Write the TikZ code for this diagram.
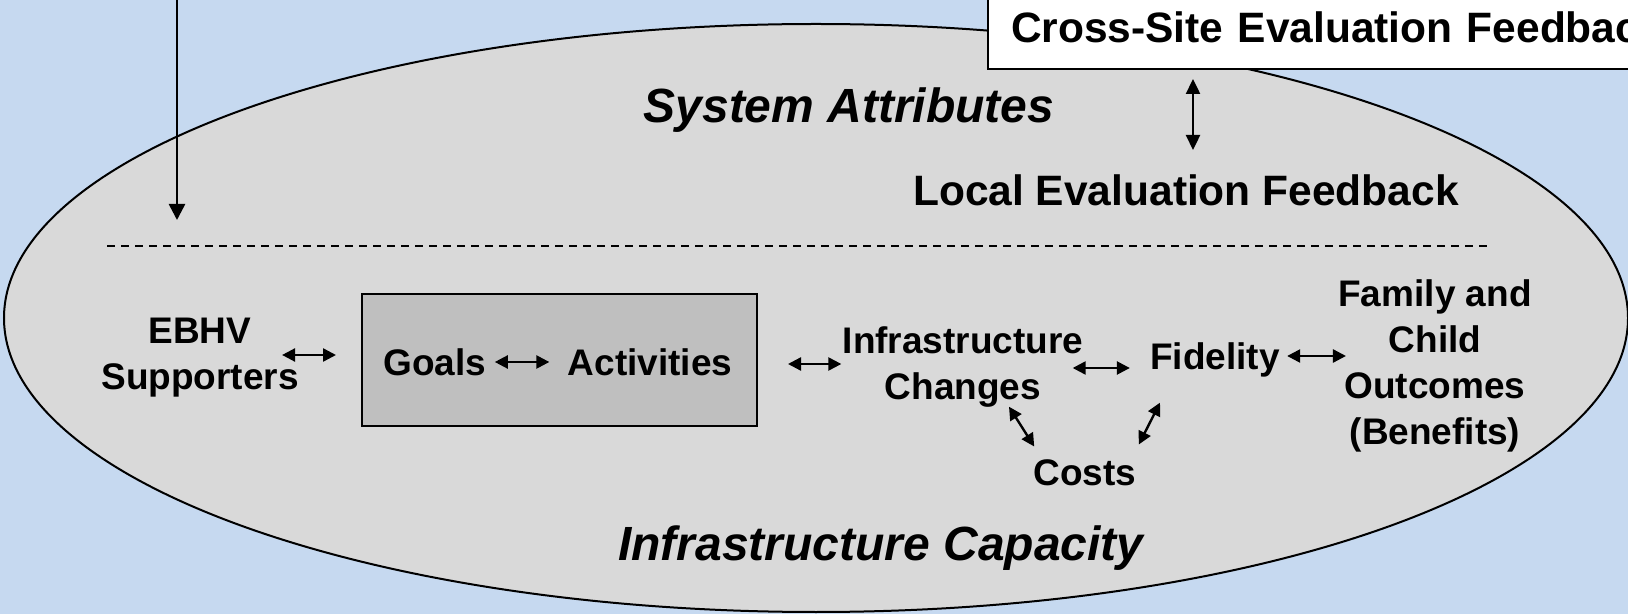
\documentclass[tikz,border=0pt]{standalone}
\usepackage{fontspec}
\setmainfont{Liberation Sans}
\usetikzlibrary{arrows.meta, calc}
\definecolor{skyblue}{RGB}{198,217,240}
\definecolor{ovalgray}{RGB}{217,217,217}
\definecolor{boxgray}{RGB}{191,191,191}
\tikzstyle{factor} = [inner sep=0pt, align=center, font=\bfseries\fontsize{18.5}{23}\selectfont]
\tikzstyle{heading} = [inner sep=0pt, font=\bfseries\fontsize{21.25}{25}\selectfont]
\tikzstyle{title} = [inner sep=0pt, font=\bfseries\itshape\fontsize{24}{28}\selectfont]
\tikzstyle{frame} = [rectangle, draw=black, fill=boxgray, line width=1pt, minimum width=197.5pt, minimum height=66pt]
\tikzstyle{crossbox} = [rectangle, draw=black, fill=white, line width=1pt, anchor=south west, minimum height=42pt, text width=330pt, align=left, inner xsep=11.5pt, font=\bfseries\fontsize{21.25}{25}\selectfont]
\tikzstyle{divider} = [line width=0.6pt, dash pattern=on 4pt off 3pt]
\tikzstyle{arrow} = [line width=1.2pt, <->, >={Triangle[length=6.5pt, width=6.5pt]}]
\tikzstyle{bigarrow} = [line width=1.3pt, ->, >={Triangle[length=8pt, width=8pt]}]

\begin{document}
\begin{tikzpicture}[x=0.5pt, y=-0.5pt]
  \useasboundingbox (0,0) rectangle (1628,614);
  \fill [skyblue] (0,0) rectangle (1628,614);
  \clip (0,0) rectangle (1628,614);
  \draw [fill=ovalgray, line width=1pt] (816,318) ellipse [x radius=406pt, y radius=147pt];
  \draw [divider] (107,246) -- (1487,246);

  \coordinate (inflow) at (177,-10);
  \coordinate (inflowend) at (177,220);
  \draw [bigarrow] (inflow) -- (inflowend);

  \node (cross) [crossbox] at (987,70) {Cross-Site Evaluation Feedback};
  \node (sysattr) [title] at (849,110) {System Attributes};
  \node (local) [heading] at (1186,190) {Local Evaluation Feedback};

  \node (ebhv) [factor] at (200,358) {EBHV\\Supporters};
  \node (box) [frame] at (559.5,360) {};
  \node (goals) [factor] at (435,362) {Goals};
  \node (activities) [factor] at (650,362) {Activities};
  \node (infra) [factor] at (963,367) {Infrastructure\\Changes};
  \node (fidelity) [factor] at (1215,360) {Fidelity};
  \node (family) [factor] at (1435,366) {Family and\\Child\\Outcomes\\(Benefits)};
  \node (costs) [factor] at (1085,473) {Costs};
  \node (capacity) [title] at (881,548) {Infrastructure Capacity};

  \draw [arrow, >={Triangle[length=7.5pt, width=7pt]}] ($(cross.south west)+(206,9)$) -- ($(local.north)+(7,-24)$);
  \draw [arrow] ($(ebhv.east)+(-17,-3)$) -- ($(box.west)+(-25,-5)$);
  \draw [arrow] ($(goals.east)+(8,0)$) -- ($(activities.west)+(-18,0)$);
  \draw [arrow] ($(box.east)+(30,4)$) -- ($(infra.west)+(-1,-3)$);
  \draw [arrow] ($(infra.east)+(-11,1)$) -- ($(fidelity.west)+(-20,8)$);
  \draw [arrow] ($(fidelity.east)+(7,-4)$) -- ($(family.west)+(8,-10)$);
  \draw [arrow] ($(infra.south)+(46,-1)$) -- ($(costs.north west)+(1,-13)$);
  \draw [arrow] ($(costs.north east)+(2,-15)$) -- ($(fidelity.south)+(-55,25)$);
\end{tikzpicture}
\end{document}
